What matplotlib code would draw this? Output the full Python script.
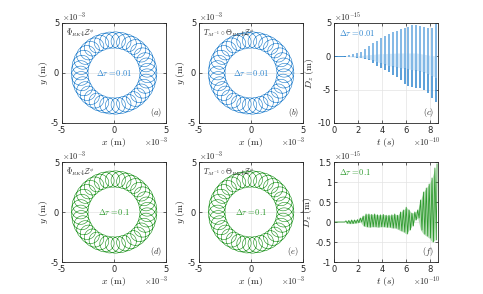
import matplotlib
matplotlib.use('Agg')
import matplotlib.pyplot as plt
import numpy as np

plt.rcParams['mathtext.fontset'] = 'cm'
plt.rcParams['axes.unicode_minus'] = False
plt.rcParams['font.family'] = 'DejaVu Sans'

BLUE = '#2f86cf'
BLUE_M = '#79b3e4'
BLUE_L = '#d6e8f7'
GREEN = '#2e9a2e'
GREEN_L = '#b5ddb5'
DARK = '#262626'

# trajectory read from the rings (units of 1e-3 m)
guide_radius = 3.3
gyro_radius = 0.82
n_loops = 38

# panel (c): spike times (1e-10 s), spike tops/bottoms and band (1e-15 m)
c_t = [0.95, 1.28, 1.61, 1.94, 2.27, 2.6, 2.93, 3.26, 3.59, 3.92, 4.25, 4.58,
       4.91, 5.24, 5.57, 5.9, 6.23, 6.56, 6.89, 7.22, 7.55, 7.88, 8.21, 8.54]
c_hi = [0.1, 0.2, 0.35, 0.5, 0.7, 1.1, 1.55, 2.0, 2.35, 2.75, 3.1, 3.4,
        3.65, 3.85, 4.05, 4.3, 4.45, 4.7, 4.75, 4.55, 4.4, 4.2, 4.3, 4.9]
c_lo = [-0.05, -0.1, -0.15, -0.2, -0.3, -0.45, -0.6, -1.0, -1.4, -1.8, -2.1, -2.4,
        -2.8, -3.1, -3.5, -4.1, -4.4, -4.6, -4.7, -4.8, -5.1, -5.5, -6.2, -6.9]
c_band_hi = [0.0, 0.0, 0.05, 0.1, 0.15, 0.2, 0.25, 0.3, 0.35, 0.4, 0.4, 0.45,
             0.45, 0.5, 0.5, 0.5, 0.5, 0.5, 0.5, 0.4, 0.3, 0.2, 0.1, 0.0]
c_band_lo = [0.0, -0.05, -0.1, -0.15, -0.2, -0.3, -0.4, -0.6, -0.8, -1.0, -1.2, -1.4,
             -1.5, -1.6, -1.7, -1.8, -1.9, -2.0, -2.1, -2.2, -2.4, -2.6, -2.9, -3.2]

# panel (f): oscillation peaks (1e-10 s, 1e-15 m)
f_t = [1.0, 1.24, 1.48, 1.72, 1.96, 2.2, 2.44, 2.68, 2.92, 3.16, 3.40, 3.64, 3.88,
       4.12, 4.36, 4.60, 4.84, 5.08, 5.32, 5.56, 5.80, 6.04, 6.28, 6.52, 6.76,
       7.00, 7.24, 7.48, 7.72, 7.96, 8.20, 8.44]
f_hi = [0.03, 0.04, 0.05, 0.05, 0.06, 0.1, 0.15, 0.2, 0.2, 0.19, 0.2, 0.18, 0.18,
        0.19, 0.17, 0.17, 0.18, 0.2, 0.17, 0.25, 0.3, 0.37, 0.3, 0.22, 0.25,
        0.3, 0.55, 0.75, 0.85, 0.95, 1.1, 1.35]
f_lo = [-0.03, -0.04, -0.04, -0.03, -0.02, 0.0, -0.1, -0.12, -0.13, -0.12, -0.12, -0.13, -0.12,
        -0.12, -0.13, -0.13, -0.15, -0.15, -0.18, -0.22, -0.25, -0.3, -0.2, -0.1, 0.05,
        0.1, -0.2, -0.3, -0.35, -0.4, -0.5, -0.45]
f_end = (8.62, 1.45)

ring_titles = [r'$\Phi_{RK4}\mathcal{Z}^{\phi}$',
               r'$T_{M^{-1}}\circ\Theta_{RK4}\mathcal{Z}^{\phi}$']
dtau = ['0.01', '0.1']
letters = [['a', 'b'], ['d', 'e']]


def style(ax):
    for s in ax.spines.values():
        s.set_color(DARK)
        s.set_linewidth(0.6)
    ax.tick_params(direction='in', length=2, width=0.5, labelsize=6,
                   colors=DARK, pad=2, top=True, right=True)
    ax.grid(True, color='#e3e3e3', linewidth=0.5)
    ax.set_axisbelow(True)


def labels(ax, xl, yl):
    ax.set_xlabel(xl, fontsize=7, color=DARK, labelpad=1)
    ax.set_ylabel(yl, fontsize=7, color=DARK, labelpad=1)


def sci(ax, x, y, exp, ha='left'):
    ax.text(x, y, r'$\times\mathsf{10}^{\mathsf{%d}}$' % exp, transform=ax.transAxes,
            fontsize=6, color=DARK, ha=ha, va='bottom')


def letter(ax, s):
    ax.text(0.96, 0.04, r'$(%s)$' % s, transform=ax.transAxes, fontsize=6,
            ha='right', va='bottom', color=DARK)


fig = plt.figure(figsize=(4.83, 2.94), dpi=100)
lefts = [62 / 483, 199 / 483, 334 / 483]
bottoms = [1 - 123 / 294, 1 - 262 / 294]
w, h = 104 / 483, 100 / 294

th = np.linspace(0, 2 * np.pi, 10000)
xs = guide_radius * np.cos(th) + gyro_radius * np.cos(n_loops * th)
ys = guide_radius * np.sin(th) + gyro_radius * np.sin(n_loops * th)

for r in range(2):
    col = BLUE if r == 0 else GREEN
    for c in range(2):
        ax = fig.add_axes([lefts[c], bottoms[r], w, h])
        style(ax)
        ax.plot(xs, ys, color=col, lw=0.45)
        ax.set_xlim(-5, 5)
        ax.set_ylim(-5, 5)
        ax.set_xticks([-5, 0, 5])
        ax.set_yticks([-5, 0, 5])
        labels(ax, r'$x\ \mathrm{(m)}$', r'$y\ \mathrm{(m)}$')
        ax.text(0.04, 0.96, ring_titles[c], transform=ax.transAxes, fontsize=5.5,
                ha='left', va='top', color=DARK)
        ax.text(0.5, 0.5, r'$\Delta\tau = %s$' % dtau[r], transform=ax.transAxes,
                fontsize=6, color=col, ha='center', va='center')
        letter(ax, letters[r][c])
        sci(ax, 0.0, 1.0, -3)
        sci(ax, 1.02, -0.25, -3, ha='right')

# panel (c)
ax = fig.add_axes([lefts[2], bottoms[0], w, h])
style(ax)
ax.plot([0, c_t[0]], [0, 0], color=BLUE, lw=0.6)
ax.fill_between(c_t, c_band_lo, c_band_hi, color=BLUE_L, lw=0)
for t, hi, lo, bl in zip(c_t, c_hi, c_lo, c_band_lo):
    ax.plot([t, t], [bl, hi], color=BLUE_M, lw=1.3, solid_capstyle='butt')
    ax.plot([t, t], [bl, lo], color=BLUE, lw=1.1, solid_capstyle='butt')
ax.set_xlim(0, 8.7)
ax.set_ylim(-10, 5)
ax.set_xticks([0, 2, 4, 6, 8])
ax.set_yticks([-10, -5, 0, 5])
labels(ax, r'$t\ (s)$', r'$D_z\ \mathrm{(m)}$')
ax.text(0.05, 0.9, r'$\Delta\tau = 0.01$', transform=ax.transAxes, fontsize=6,
        color=BLUE, ha='left', va='center')
letter(ax, 'c')
sci(ax, 0.0, 1.0, -15)
sci(ax, 1.02, -0.25, -10, ha='right')

# panel (f)
ax = fig.add_axes([lefts[2], bottoms[1], w, h])
style(ax)
half = 0.12
zt = [0, 0.9]
zv = [0, 0]
for t, hi, lo in zip(f_t, f_hi, f_lo):
    zt += [t, t + half]
    zv += [hi, lo]
zt.append(f_end[0])
zv.append(f_end[1])
ax.fill_between(f_t, f_lo, f_hi, color=GREEN_L, lw=0)
ax.plot(zt, zv, color=GREEN, lw=0.6)
ax.set_xlim(0, 8.7)
ax.set_ylim(-1, 1.5)
ax.set_xticks([0, 2, 4, 6, 8])
ax.set_yticks([-1, -0.5, 0, 0.5, 1, 1.5])
ax.set_yticklabels(['-1', '-0.5', '0', '0.5', '1', '1.5'])
labels(ax, r'$t\ (s)$', r'$D_z\ \mathrm{(m)}$')
ax.text(0.05, 0.9, r'$\Delta\tau = 0.1$', transform=ax.transAxes, fontsize=6,
        color=GREEN, ha='left', va='center')
letter(ax, 'f')
sci(ax, 0.0, 1.0, -15)
sci(ax, 1.02, -0.25, -10, ha='right')

fig.savefig('out.png', dpi=100)
